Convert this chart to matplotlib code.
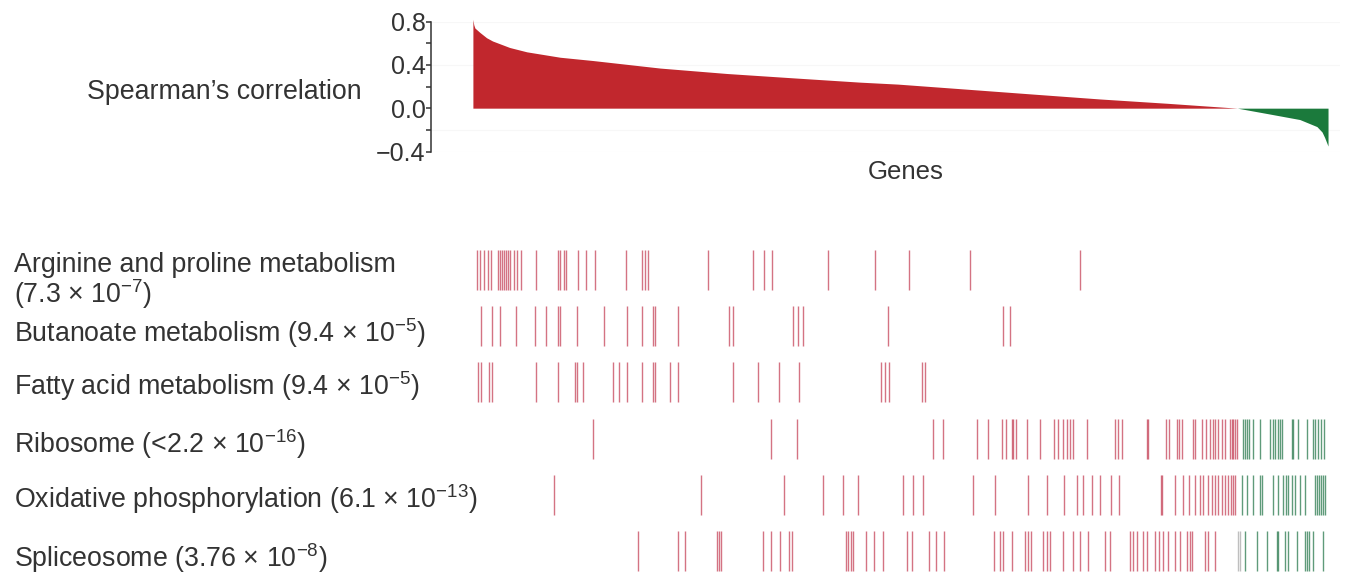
import matplotlib
matplotlib.use("Agg")
import matplotlib.pyplot as plt

# ---- data (gene rank on a 0..1000 scale) ----
curve_rank = [0, 1, 2.3, 8, 16, 23, 43, 63, 102, 140, 219, 297, 374, 453, 497,
              578, 655, 733, 812, 894, 929, 967, 987, 993, 996, 1000]
curve_corr = [0.82, 0.77, 0.74, 0.70, 0.65, 0.62, 0.56, 0.52, 0.47, 0.44, 0.37,
              0.32, 0.28, 0.24, 0.222, 0.175, 0.13, 0.085, 0.045, 0.0, -0.05,
              -0.105, -0.17, -0.22, -0.27, -0.35]

arginine = [5, 8, 13, 18, 21, 29, 32, 34, 36, 39, 41, 43, 48, 51, 56, 74, 99, 102,
            106, 109, 123, 132, 143, 179, 198, 201, 205, 275, 327, 340, 350, 415,
            470, 510, 581, 710]
butanoate = [9, 22, 32, 50, 73, 85, 99, 102, 122, 153, 180, 198, 211, 213, 240,
             299, 304, 374, 380, 386, 485, 620, 628]
fatty_acid = [6, 9, 19, 22, 74, 99, 119, 122, 129, 164, 171, 180, 198, 211, 213,
              230, 240, 304, 333, 358, 381, 477, 482, 487, 525, 529]
ribosome = [140, 349, 379, 538, 550, 589, 602, 619, 623, 630, 632, 635, 648, 663,
            680, 684, 690, 695, 698, 702, 718, 751, 754, 759, 788, 789, 811, 814,
            823, 826, 829, 842, 844, 853, 857, 862, 865, 868, 871, 876, 880, 885,
            888, 889, 891, 893, 901, 903, 905, 908, 912, 920, 932, 936, 938, 942,
            944, 946, 958, 959, 965, 975, 982, 985, 988, 992, 995]
oxphos = [95, 267, 364, 409, 433, 450, 503, 515, 526, 585, 611, 649, 671, 691, 706,
          713, 724, 733, 746, 756, 805, 806, 821, 830, 838, 844, 850, 854, 860, 864,
          868, 871, 876, 880, 883, 887, 889, 891, 899, 905, 912, 920, 923, 936, 942,
          947, 951, 953, 958, 961, 967, 973, 985, 987, 989, 992, 994, 997]
spliceosome = [193, 240, 248, 285, 288, 290, 339, 349, 359, 370, 373, 436, 439, 442,
               444, 460, 469, 480, 508, 513, 533, 542, 551, 609, 616, 620, 630, 646,
               649, 653, 667, 671, 675, 690, 702, 710, 719, 739, 745, 768, 772, 777,
               784, 788, 798, 802, 807, 813, 821, 827, 835, 839, 841, 856, 860, 868,
               895, 897, 903, 917, 929, 940, 942, 950, 953, 964, 973, 975, 978, 982, 994]

pathway_sets = [arginine, butanoate, fatty_acid, ribosome, oxphos, spliceosome]
pathway_labels = [
    "Arginine and proline metabolism\n(7.3 \u00d7 $\\mathregular{10^{-7}}$)",
    "Butanoate metabolism (9.4 \u00d7 $\\mathregular{10^{-5}}$)",
    "Fatty acid metabolism (9.4 \u00d7 $\\mathregular{10^{-5}}$)",
    "Ribosome (<2.2 \u00d7 $\\mathregular{10^{-16}}$)",
    "Oxidative phosphorylation (6.1 \u00d7 $\\mathregular{10^{-13}}$)",
    "Spliceosome (3.76 \u00d7 $\\mathregular{10^{-8}}$)",
]

RED = "#c1272d"
GREEN = "#1b7a3c"
TEXT = "#333333"

plt.rcParams["font.family"] = ["Liberation Sans", "DejaVu Sans"]
plt.rcParams["mathtext.fontset"] = "custom"
plt.rcParams["mathtext.rm"] = "Liberation Sans"
plt.rcParams["mathtext.it"] = "Liberation Sans:italic"
plt.rcParams["mathtext.bf"] = "Liberation Sans:bold"

W, H = 1350, 573
fig = plt.figure(figsize=(W / 100, H / 100), dpi=100)


def px_box(left, top, right, bottom):
    return [left / W, 1 - bottom / H, (right - left) / W, (bottom - top) / H]


XLIM = (-49, 1014)
LABEL_SIZE = 19.3

# ---- top panel: ranked correlation ----
ax = fig.add_axes(px_box(431, 21.5, 1340, 151.5))
ax.fill_between(curve_rank, curve_corr, 0, where=[c >= 0 for c in curve_corr],
                interpolate=True, color=RED, lw=0, clip_on=False)
ax.fill_between(curve_rank, curve_corr, 0, where=[c <= 0 for c in curve_corr],
                interpolate=True, color=GREEN, lw=0, clip_on=False)
ax.set_xlim(*XLIM)
ax.set_ylim(-0.4, 0.8)
ax.set_yticks([-0.4, 0.0, 0.4, 0.8])
ax.set_yticks([-0.2, 0.2, 0.6], minor=True)
ax.set_yticklabels(["\u22120.4", "0.0", "0.4", "0.8"])
ax.set_xticks([])
for side in ["top", "right", "bottom"]:
    ax.spines[side].set_visible(False)
ax.spines["left"].set_color(TEXT)
ax.spines["left"].set_linewidth(1.1)
ax.tick_params(axis="y", which="both", direction="out", length=3.5, width=1.1,
               color=TEXT, pad=0.5, labelsize=18, labelcolor=TEXT)
for y in [0.8, 0.4, -0.2, -0.4]:
    ax.axhline(y, color="#f7f7f7", lw=0.8, zorder=0)

fig.text(362 / W, 1 - 99 / H, "Spearman\u2019s correlation", ha="right",
         va="baseline", fontsize=LABEL_SIZE, color=TEXT)
fig.text(906 / W, 1 - 179 / H, "Genes", ha="center", va="baseline",
         fontsize=18.5, color=TEXT)

# ---- barcode panel ----
pitch = 56.2
c0 = 270
bx = fig.add_axes(px_box(431, c0 - 0.5 * pitch, 1340, H))
bx.set_xlim(*XLIM)
bx.set_ylim((H - c0) / pitch, -0.5)
bx.axis("off")

for i, ranks in enumerate(pathway_sets):
    reds = [r for r in ranks if r < 894]
    greys = [r for r in ranks if 894 <= r < 898]
    greens = [r for r in ranks if r >= 898]
    bx.vlines(reds, i - 0.355, i + 0.355, color="#c2384f", alpha=0.7, lw=1.0)
    bx.vlines(greys, i - 0.355, i + 0.355, color="#b8b8b8", alpha=0.9, lw=1.0)
    bx.vlines(greens, i - 0.355, i + 0.355, color="#2a7a4e", alpha=0.75, lw=1.0)

baselines = [272, 342, 395, 453, 508, 567]
for i, label in enumerate(pathway_labels):
    if "\n" in label:
        first, second = label.split("\n")
        fig.text(14 / W, 1 - 272 / H, first, ha="left", va="baseline",
                 fontsize=LABEL_SIZE, color=TEXT)
        fig.text(14 / W, 1 - 303 / H, second, ha="left", va="baseline",
                 fontsize=LABEL_SIZE, color=TEXT)
    else:
        fig.text(14 / W, 1 - baselines[i] / H, label, ha="left", va="baseline",
                 fontsize=LABEL_SIZE, color=TEXT)

fig.savefig("out.png", dpi=100)
